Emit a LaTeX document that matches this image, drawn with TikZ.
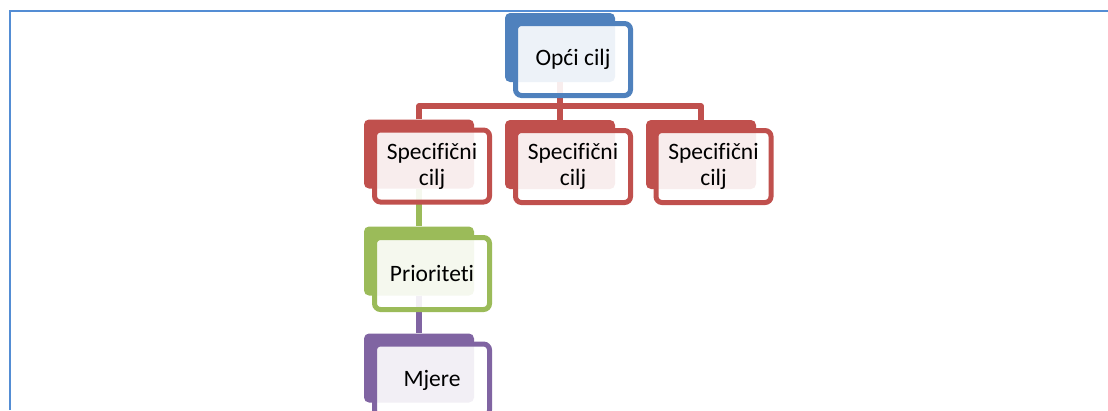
\documentclass[tikz,border=0pt]{standalone}
\usepackage{fontspec}
\setmainfont{Carlito}[Ligatures={NoCommon}]
\pgfdeclarelayer{bg}
\pgfdeclarelayer{mid}
\pgfsetlayers{bg,mid,main}
\definecolor{cblue}{HTML}{4F81BD}
\definecolor{cred}{HTML}{C0504D}
\definecolor{cgreen}{HTML}{9BBB59}
\definecolor{cpurple}{HTML}{8064A2}
\definecolor{frame}{RGB}{84,141,212}
\tikzset{
  backbox/.style={fill=#1, draw=none, rounded corners=5pt, minimum width=110pt, minimum height=69pt, inner sep=0pt},
  frontbox/.style={draw=#1, line width=5pt, fill=white, fill opacity=0.9, text opacity=1, rounded corners=6pt,
     minimum width=115pt, minimum height=72pt, inner sep=0pt, align=center,
     font=\fontsize{23.5pt}{26pt}\selectfont},
  conn/.style={draw=#1, line width=5.5pt, line join=round},
}
\begin{document}
\begin{tikzpicture}[x=1pt,y=-1pt]
\useasboundingbox (0,0) rectangle (1108,410);
\clip (0,0) rectangle (1108,410);
\draw[frame, line width=2pt] (10,410) -- (10,11) -- (1108,11);
\begin{pgfonlayer}{bg}
\node[backbox=cblue] (b0) at (560,47.5) {};
\node[backbox=cred] (b1) at (419,154) {};
\node[backbox=cred] (b2) at (560,154.5) {};
\node[backbox=cred] (b3) at (701,154.5) {};
\node[backbox=cgreen] (b4) at (419,261) {};
\node[backbox=cpurple] (b5) at (419,368) {};
\end{pgfonlayer}
\node[frontbox=cblue] (f0) at (573,59.5) {Opći cilj};
\node[frontbox=cred] (f1) at (432,166) {Specifični\\cilj};
\node[frontbox=cred] (f2) at (573,166.5) {Specifični\\cilj};
\node[frontbox=cred] (f3) at (713.5,166.5) {Specifični\\cilj};
\node[frontbox=cgreen] (f4) at (432,273.5) {Prioriteti};
\node[frontbox=cpurple] (f5) at (432,380) {Mjere};
\coordinate (hy) at (0,106);
\begin{pgfonlayer}{mid}
\draw[conn=cred] (b1.north) -- (b1.north |- hy) -| (b3.north);
\draw[conn=cred] (b0.south) -- (b2.north);
\draw[conn=cgreen] (b1.south) -- (b4.north);
\draw[conn=cpurple] (b4.south) -- (b5.north);
\end{pgfonlayer}
\end{tikzpicture}
\end{document}
